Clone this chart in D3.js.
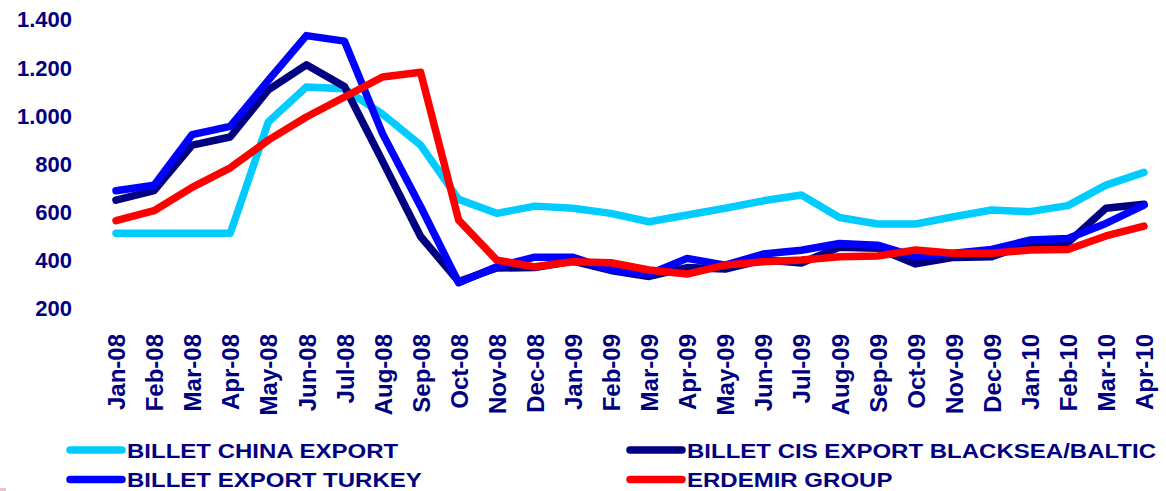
<!DOCTYPE html>
<html>
<head>
<meta charset="utf-8">
<script src="https://cdn.jsdelivr.net/npm/d3@7"></script>
<style>
  body { margin: 0; background: #fff; }
  svg text { font-family: "Liberation Sans", Arial, sans-serif; font-weight: bold; fill: #000080; }
</style>
</head>
<body>
<svg id="chart" width="1166" height="491"></svg>
<script>
// months on the x axis
var months = ["Jan-08","Feb-08","Mar-08","Apr-08","May-08","Jun-08","Jul-08","Aug-08","Sep-08","Oct-08",
  "Nov-08","Dec-08","Jan-09","Feb-09","Mar-09","Apr-09","May-09","Jun-09","Jul-09","Aug-09",
  "Sep-09","Oct-09","Nov-09","Dec-09","Jan-10","Feb-10","Mar-10","Apr-10"];

var yTicks = [200, 400, 600, 800, 1000, 1200, 1400];

// series values
var chinaExport = [510, 510, 510, 510, 972, 1118, 1110, 1005, 876, 651, 593, 623, 614, 593, 558, 586,
  614, 645, 669, 576, 549, 549, 579, 607, 600, 625, 710, 763];
var cisExport = [648, 687, 876, 910, 1106, 1210, 1120, 810, 497, 310, 366, 368, 395, 356, 331, 368,
  362, 400, 387, 452, 448, 383, 410, 413, 468, 471, 614, 631];
var turkeyExport = [687, 710, 920, 954, 1145, 1331, 1308, 924, 621, 305, 371, 411, 411, 358, 340, 406,
  378, 424, 440, 468, 461, 413, 427, 443, 482, 489, 551, 627];
var erdemir = [563, 604, 701, 782, 897, 993, 1076, 1159, 1179, 565, 399, 371, 392, 388, 358, 341,
  378, 392, 399, 413, 416, 441, 427, 427, 441, 443, 499, 540];

var seriesNames = ["BILLET CHINA EXPORT", "BILLET CIS EXPORT BLACKSEA/BALTIC", "BILLET EXPORT TURKEY", "ERDEMIR GROUP"];
var seriesColors = ["#00ccff", "#000080", "#0000ff", "#ff0000"];

var series = [
  {name: seriesNames[0], color: seriesColors[0], values: chinaExport},
  {name: seriesNames[1], color: seriesColors[1], values: cisExport},
  {name: seriesNames[2], color: seriesColors[2], values: turkeyExport},
  {name: seriesNames[3], color: seriesColors[3], values: erdemir}
];

var svg = d3.select("#chart");

var x = d3.scalePoint().domain(months).range([116, 1144]);
var y = d3.scaleLinear().domain([200, 1400]).range([308, 19]);

// y axis labels (no line, no ticks)
var yAxis = svg.append("g")
  .attr("transform", "translate(76,0)")
  .call(d3.axisLeft(y).tickValues(yTicks).tickSize(0).tickPadding(4)
    .tickFormat(function(d){ return d3.format(",")(d).replace(",", "."); }));
yAxis.select(".domain").remove();
yAxis.selectAll("text").attr("font-size", "22px").attr("dy", "0.36em")
  .style("font-family", "Liberation Sans, Arial, sans-serif").style("font-weight", "bold").attr("fill", "#000080");

// x axis labels, rotated
var xAxis = svg.append("g")
  .attr("transform", "translate(0,330)")
  .call(d3.axisBottom(x).tickSize(0).tickPadding(0));
xAxis.select(".domain").remove();
xAxis.selectAll("text")
  .attr("font-size", "24px")
  .style("font-family", "Liberation Sans, Arial, sans-serif").style("font-weight", "bold").attr("fill", "#000080")
  .attr("text-anchor", "end")
  .attr("transform", "rotate(-90)")
  .attr("x", -4)
  .attr("y", 0)
  .attr("dy", "0.36em");

var line = d3.line()
  .x(function(d, i){ return x(months[i]); })
  .y(function(d){ return y(d); });

svg.append("g").selectAll("path")
  .data(series)
  .enter().append("path")
  .attr("d", function(d){ return line(d.values); })
  .attr("fill", "none")
  .attr("stroke", function(d){ return d.color; })
  .attr("stroke-width", 7.5)
  .attr("stroke-linejoin", "round")
  .attr("stroke-linecap", "round");

// legend, 2 columns
var legendPos = [[66, 450], [626, 450], [66, 479.5], [626, 479.5]];
var legend = svg.append("g").selectAll("g")
  .data(series)
  .enter().append("g")
  .attr("transform", function(d, i){ return "translate(" + legendPos[i][0] + "," + legendPos[i][1] + ")"; });
legend.append("line")
  .attr("x1", 4).attr("x2", 56).attr("y1", 0).attr("y2", 0)
  .attr("stroke", function(d){ return d.color; })
  .attr("stroke-width", 7.5)
  .attr("stroke-linecap", "round");
legend.append("text")
  .attr("transform", "translate(61,0) scale(1.144,1)")
  .attr("dy", "0.36em")
  .attr("font-size", "21px")
  .text(function(d){ return d.name; });

// small mark in bottom-left corner
svg.append("rect").attr("x", 0).attr("y", 488).attr("width", 6).attr("height", 3).attr("fill", "#f4c0c8");
</script>
</body>
</html>
